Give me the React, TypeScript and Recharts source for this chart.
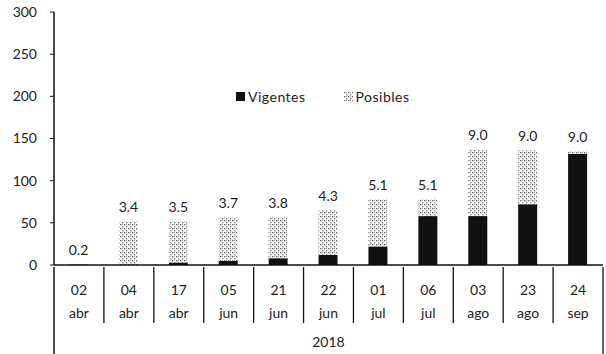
import { Bar, BarChart, LabelList, XAxis, YAxis } from "recharts";

const FECHAS = ["02 abr", "04 abr", "17 abr", "05 jun", "21 jun", "22 jun", "01 jul", "06 jul", "03 ago", "23 ago", "24 sep"];
const VIGENTES = [0.5, 0, 3, 5, 8, 12, 22, 58, 58, 72, 132];
const POSIBLES = [0.5, 52, 49, 52, 49, 53, 56, 20, 79, 64, 3];
const ETIQUETAS = ["0.2", "3.4", "3.5", "3.7", "3.8", "4.3", "5.1", "5.1", "9.0", "9.0", "9.0"];
const Y_TICKS = [0, 50, 100, 150, 200, 250, 300];
const ANIO = "2018";

const data = FECHAS.map((fecha, i) => ({
  fecha,
  vigentes: VIGENTES[i],
  posibles: POSIBLES[i],
  etiqueta: ETIQUETAS[i],
}));

const FONT = "Lato, 'Open Sans', sans-serif";
const WIDTH = 606;
const HEIGHT = 354;
const PLOT_LEFT = 54;
const PLOT_RIGHT = 603;
const BAND = (PLOT_RIGHT - PLOT_LEFT) / FECHAS.length;


function FechaTick({ x, y, payload, index }: any) {
  const [dia, mes] = String(payload.value).split(" ");
  const left = x - BAND / 2;
  const right = x + BAND / 2;
  return (
    <g>
      {index > 0 && <line x1={left} y1={y} x2={left} y2={y + 56} stroke="#111" strokeWidth={1.3} />}
      {index === 0 && <line x1={left} y1={y} x2={left} y2={HEIGHT} stroke="#111" strokeWidth={1.5} />}
      {index === FECHAS.length - 1 && (
        <line x1={right} y1={y} x2={right} y2={HEIGHT} stroke="#111" strokeWidth={1.3} />
      )}
      <text x={x} y={y + 28} textAnchor="middle" fontSize={14} fill="#222" fontFamily={FONT}>{dia}</text>
      <text x={x} y={y + 51} textAnchor="middle" fontSize={14} fill="#222" fontFamily={FONT}>{mes}</text>
      {index === 5 && (
        <text x={x} y={y + 80} textAnchor="middle" fontSize={14} fill="#222" fontFamily={FONT}>{ANIO}</text>
      )}
    </g>
  );
}

function Leyenda() {
  const item = { display: "flex", alignItems: "center", gap: 3 };
  return (
    <div
      style={{
        position: "absolute", top: 88, left: 236, display: "flex", gap: 38,
        fontFamily: FONT, fontSize: 14, color: "#222", letterSpacing: 0.5,
      }}
    >
      <div style={item}>
        <svg width={9} height={9}><rect width={9} height={9} fill="#111" /></svg>
        <span>Vigentes</span>
      </div>
      <div style={item}>
        <svg width={9} height={9}><rect width={9} height={9} fill="url(#puntos)" /></svg>
        <span>Posibles</span>
      </div>
    </div>
  );
}

export default function App() {
  return (
    <div style={{ position: "absolute", left: 0, top: 0, width: WIDTH, height: HEIGHT, background: "#fff" }}>
      <BarChart
        width={WIDTH}
        height={HEIGHT}
        data={data}
        margin={{ top: 12, right: WIDTH - PLOT_RIGHT, bottom: 0, left: 0 }}
        barSize={19}
      >
        <defs>
          <pattern id="puntos" width={4} height={4} patternUnits="userSpaceOnUse">
            <rect width={4} height={4} fill="#fff" />
            <rect x={0} y={0} width={1.4} height={1.4} fill="#666" />
            <rect x={2} y={2} width={1.4} height={1.4} fill="#888" />
            <rect x={2} y={0} width={1} height={1} fill="#aaa" />
          </pattern>
        </defs>
        <XAxis
          dataKey="fecha"
          interval={0}
          height={89}
          tickSize={0}
          tickLine={false}
          axisLine={{ stroke: "#111", strokeWidth: 1.5 }}
          tick={<FechaTick />}
        />
        <YAxis
          width={PLOT_LEFT}
          domain={[0, 300]}
          ticks={Y_TICKS}
          tickSize={4}
          tickMargin={13}
          axisLine={{ stroke: "#111", strokeWidth: 1.5 }}
          tickLine={{ stroke: "#111" }}
          tick={{ fontSize: 14, fill: "#222", fontFamily: FONT }}
        />
        <Bar dataKey="vigentes" name="Vigentes" stackId="a" fill="#111" isAnimationActive={false} />
        <Bar dataKey="posibles" name="Posibles" stackId="a" fill="url(#puntos)" isAnimationActive={false}>
          <LabelList dataKey="etiqueta" position="top" offset={9} fontSize={14} fill="#222" fontFamily={FONT} />
        </Bar>
      </BarChart>
      <Leyenda />
    </div>
  );
}
